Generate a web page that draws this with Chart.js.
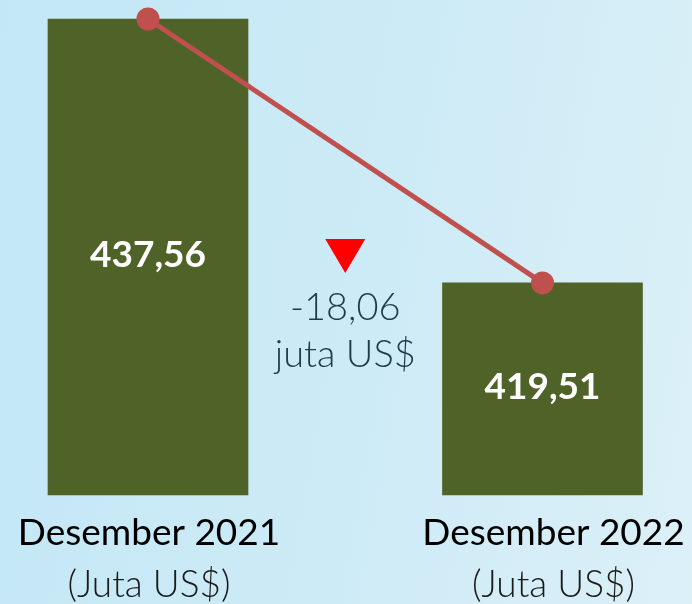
<!DOCTYPE html>
<html>
<head>
<meta charset="utf-8">
<script src="https://cdn.jsdelivr.net/npm/chart.js@4"></script>
<style>
  html,body{margin:0;padding:0;}
  body{width:692px;height:604px;overflow:hidden;background:linear-gradient(100deg,#c3e7f6 0%,#cdebf6 55%,#dcf0f8 100%);}
  #wrap{position:relative;width:692px;height:604px;}
</style>
</head>
<body>
<div id="wrap"><canvas id="c" width="692" height="604"></canvas></div>
<script>
// ---- data ----
const categories = ["Desember 2021", "Desember 2022"];
const unitLabels = ["(Juta US$)", "(Juta US$)"];
const values = [437.56, 419.51];
const valueLabels = ["437,56", "419,51"];
const changeLabels = ["-18,06", "juta US$"];
const yRange = [405, 437.56];

const FONT = "Lato, Carlito, 'Open Sans', sans-serif";
const BAR_COLOR = "#4f6228";
const LINE_COLOR = "#c0504d";

const overlay = {
  id: "overlay",
  afterDatasetsDraw(chart) {
    const ctx = chart.ctx;
    const x = chart.scales.x, y = chart.scales.y;
    const base = y.getPixelForValue(yRange[0]);
    ctx.save();
    ctx.textAlign = "center";
    ctx.textBaseline = "alphabetic";
    ctx.fillStyle = "#ffffff";
    ctx.font = "bold 37px " + FONT;
    values.forEach((v, i) => {
      const px = x.getPixelForValue(i);
      const mid = (y.getPixelForValue(v) + base) / 2;
      ctx.fillText(valueLabels[i], px, mid + 10);
    });
    const offs = [1, 11];
    categories.forEach((c, i) => {
      const px = x.getPixelForValue(i) + offs[i];
      ctx.fillStyle = "#000000";
      ctx.font = "37px " + FONT;
      ctx.fillText(c, px, base + 50);
      ctx.fillStyle = "#1a1a1a";
      ctx.font = "300 37px " + FONT;
      ctx.fillText(unitLabels[i], px, base + 102);
    });
    const mx = (x.getPixelForValue(0) + x.getPixelForValue(1)) / 2;
    const ty = chart.chartArea.top + 220;
    ctx.fillStyle = "#ff0000";
    ctx.beginPath();
    ctx.moveTo(mx - 20, ty);
    ctx.lineTo(mx + 20, ty);
    ctx.lineTo(mx, ty + 34);
    ctx.closePath();
    ctx.fill();
    ctx.fillStyle = "#1f3a4a";
    ctx.font = "300 38px " + FONT;
    ctx.fillText(changeLabels[0], mx, ty + 81);
    ctx.fillText(changeLabels[1], mx, ty + 128);
    ctx.restore();
  }
};

new Chart(document.getElementById("c"), {
  type: "bar",
  data: {
    labels: categories,
    datasets: [
      {
        type: "line",
        data: values,
        borderColor: LINE_COLOR,
        backgroundColor: LINE_COLOR,
        borderWidth: 5,
        pointRadius: 11.5,
        pointHoverRadius: 11.5,
        pointBorderWidth: 0,
        tension: 0,
        clip: false,
        order: 0
      },
      {
        type: "bar",
        data: values,
        base: yRange[0],
        backgroundColor: BAR_COLOR,
        borderWidth: 0,
        barThickness: 200,
        clip: false,
        order: 1
      }
    ]
  },
  options: {
    responsive: false,
    animation: false,
    events: [],
    layout: { padding: { left: 148, right: 149.5, top: 19, bottom: 109 } },
    plugins: { legend: { display: false }, tooltip: { enabled: false } },
    scales: {
      x: { display: false, offset: false },
      y: { display: false, min: yRange[0], max: yRange[1] }
    }
  },
  plugins: [overlay]
});
</script>
</body>
</html>
